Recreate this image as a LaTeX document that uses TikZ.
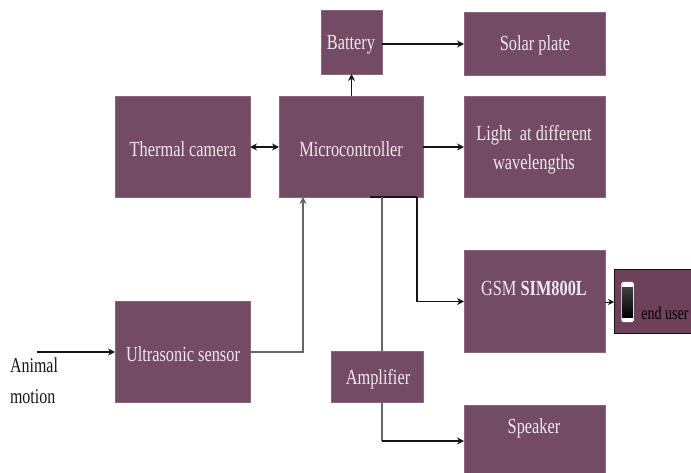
\documentclass[tikz,border=0pt]{standalone}
\usepackage{fontspec}
\setmainfont[FakeStretch=0.76]{Liberation Serif}
\usetikzlibrary{arrows.meta,calc}
\definecolor{plum}{HTML}{734B64}
\definecolor{plumdark}{HTML}{6C4159}
\definecolor{lineblack}{HTML}{151515}
\definecolor{linegray}{HTML}{666666}
\definecolor{boxtext}{HTML}{F0E8EC}
\tikzset{
  blockbox/.style={draw=plum!85!white,line width=0.5pt,fill=plum,inner sep=0pt,outer sep=0pt,anchor=north west},
  blocktext/.style={text=boxtext,font=\fontsize{21.5}{29}\selectfont,align=center,inner sep=0pt},
  plaintext/.style={text=lineblack,font=\fontsize{21}{31}\selectfont,align=left,inner sep=0pt},
  link/.style={draw=lineblack,line width=1.5pt,-{Stealth[length=7pt,width=7pt]}},
  graylink/.style={draw=linegray,line width=1.5pt},
}
\begin{document}
\begin{tikzpicture}[x=1pt,y=-1pt]
\useasboundingbox (0,0) rectangle (691,473);
% blocks
\node[blockbox,minimum width=61pt,minimum height=64pt] (battery) at (321,10) {};
\node[blockbox,minimum width=141pt,minimum height=63pt] (solar) at (464,12) {};
\node[blockbox,minimum width=135pt,minimum height=101pt] (thermal) at (115,96) {};
\node[blockbox,minimum width=144pt,minimum height=101pt] (micro) at (279,96) {};
\node[blockbox,minimum width=141pt,minimum height=101pt] (light) at (464,96) {};
\node[blockbox,minimum width=141pt,minimum height=102pt] (gsm) at (464,250) {};
\node[blockbox,draw=black!80!plum,line width=1pt,fill=plumdark,minimum width=79pt,minimum height=63pt] (enduser) at (614,270) {};
\node[blockbox,minimum width=135pt,minimum height=101pt] (ultra) at (115,301) {};
\node[blockbox,minimum width=92pt,minimum height=51pt] (amp) at (331,351) {};
\node[blockbox,minimum width=141pt,minimum height=70pt] (speaker) at (464,405) {};
% texts
\node[blocktext] (tbattery) at (351,45) {Battery};
\node[blocktext] (tsolar) at (535,45) {Solar plate};
\node[blocktext] (tthermal) at (183,149) {Thermal camera};
\node[blocktext] (tmicro) at (351,149) {Microcontroller};
\node[blocktext] (tlight) at (534,150) {Light\ \ at different\\wavelengths};
\node[blocktext] (tgsm) at (534,288) {GSM \textbf{SIM800L}};
\node[blocktext] (tultra) at (183,354) {Ultrasonic sensor};
\node[blocktext] (tamp) at (378,379) {Amplifier};
\node[blocktext] (tspeaker) at (534,428) {Speaker};
\node[text=black,font=\fontsize{18.5}{22}\selectfont,inner sep=0pt] (tend) at (665,313) {end user};
\node[plaintext] (animal) at (34,381) {Animal\\motion};
% phone
\node[draw=none,fill=white,rounded corners=1.5pt,minimum width=12.5pt,minimum height=40pt,inner sep=0pt] (phone) at (627.5,302) {};
\fill[top color=black!75,bottom color=black] (622,287.5) rectangle (633,317);
% free ends
\coordinate (motionstart) at (37,352);
\coordinate (ultraIn) at (ultra.west |- motionstart);
\coordinate (ultraOut) at (ultra.east |- motionstart);
\coordinate (microIn) at (303,197);
\coordinate (barStart) at (370,197);
\coordinate (barEnd) at (417,197);
\coordinate (grayTop) at (382,197);
\coordinate (ampBottom) at (382,402);
\coordinate (ampTop) at (382,351);
\coordinate (gsmIn) at (464,301.5);
\coordinate (speakerIn) at (464,441);
\coordinate (batBase) at (351.5,96);
\coordinate (batTop) at (351.5,74);
\coordinate (batOut) at (382,44);
\coordinate (solarIn) at (464,44);
\coordinate (microOut) at (423,147);
\coordinate (lightIn) at (464,147);
\coordinate (gsmOut) at (605,302);
\coordinate (endIn) at (614,302);
% connectors
\draw[link] (motionstart) -- (ultraIn);
\draw[draw=linegray,line width=1.2pt,-{Stealth[length=7pt,width=7pt,fill=lineblack]}] (ultraOut) -| (microIn);
\draw[link,{Stealth[length=7pt,width=7pt]}-{Stealth[length=7pt,width=7pt]}] (thermal.east |- microOut) -- (micro.west |- microOut);
\draw[link] (microOut) -- (lightIn);
\draw[link] (batBase) -- (batTop);
\draw[link] (batOut) -- (solarIn);
\draw[draw=lineblack,line width=1.5pt] (barStart) -- (barEnd);
\draw[link] (barEnd) |- (gsmIn);
\draw[graylink] (grayTop) -- (ampTop);
\draw[graylink] (ampBottom) -- (ampBottom |- speakerIn);
\draw[link] (ampBottom |- speakerIn) -- (speakerIn);
\draw[draw=lineblack,line width=0.6pt,-{Stealth[length=6pt,width=6pt]}] (gsmOut) -- (endIn);
\end{tikzpicture}
\end{document}
